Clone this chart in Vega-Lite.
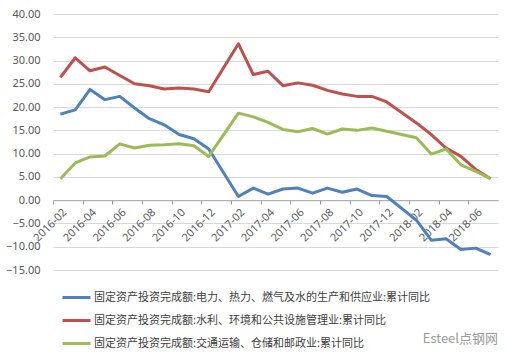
{
  "$schema": "https://vega.github.io/schema/vega-lite/v6.json",
  "width": 445,
  "height": 256,
  "autosize": {"type": "none"},
  "padding": {"left": 53, "top": 14, "right": 18, "bottom": 89},
  "background": "white",
  "config": {"view": {"stroke": null}, "font": "Noto Sans"},
  "title": {"text": "Esteel点钢网", "orient": "bottom", "anchor": "end", "frame": "group", "offset": -17, "color": "#9A9A9A", "fontSize": 13, "fontWeight": "normal", "font": "Noto Sans CJK SC"},
  "data": {"values": [
    {"month": "2016-02", "固定资产投资完成额:电力、热力、燃气及水的生产和供应业:累计同比": 18.5, "固定资产投资完成额:水利、环境和公共设施管理业:累计同比": 26.4, "固定资产投资完成额:交通运输、仓储和邮政业:累计同比": 4.6},
    {"month": "2016-03", "固定资产投资完成额:电力、热力、燃气及水的生产和供应业:累计同比": 19.4, "固定资产投资完成额:水利、环境和公共设施管理业:累计同比": 30.6, "固定资产投资完成额:交通运输、仓储和邮政业:累计同比": 8.0},
    {"month": "2016-04", "固定资产投资完成额:电力、热力、燃气及水的生产和供应业:累计同比": 23.8, "固定资产投资完成额:水利、环境和公共设施管理业:累计同比": 27.8, "固定资产投资完成额:交通运输、仓储和邮政业:累计同比": 9.3},
    {"month": "2016-05", "固定资产投资完成额:电力、热力、燃气及水的生产和供应业:累计同比": 21.6, "固定资产投资完成额:水利、环境和公共设施管理业:累计同比": 28.6, "固定资产投资完成额:交通运输、仓储和邮政业:累计同比": 9.5},
    {"month": "2016-06", "固定资产投资完成额:电力、热力、燃气及水的生产和供应业:累计同比": 22.3, "固定资产投资完成额:水利、环境和公共设施管理业:累计同比": 26.8, "固定资产投资完成额:交通运输、仓储和邮政业:累计同比": 12.1},
    {"month": "2016-07", "固定资产投资完成额:电力、热力、燃气及水的生产和供应业:累计同比": 19.8, "固定资产投资完成额:水利、环境和公共设施管理业:累计同比": 25.0, "固定资产投资完成额:交通运输、仓储和邮政业:累计同比": 11.2},
    {"month": "2016-08", "固定资产投资完成额:电力、热力、燃气及水的生产和供应业:累计同比": 17.5, "固定资产投资完成额:水利、环境和公共设施管理业:累计同比": 24.6, "固定资产投资完成额:交通运输、仓储和邮政业:累计同比": 11.8},
    {"month": "2016-09", "固定资产投资完成额:电力、热力、燃气及水的生产和供应业:累计同比": 16.2, "固定资产投资完成额:水利、环境和公共设施管理业:累计同比": 23.9, "固定资产投资完成额:交通运输、仓储和邮政业:累计同比": 11.9},
    {"month": "2016-10", "固定资产投资完成额:电力、热力、燃气及水的生产和供应业:累计同比": 14.1, "固定资产投资完成额:水利、环境和公共设施管理业:累计同比": 24.1, "固定资产投资完成额:交通运输、仓储和邮政业:累计同比": 12.1},
    {"month": "2016-11", "固定资产投资完成额:电力、热力、燃气及水的生产和供应业:累计同比": 13.2, "固定资产投资完成额:水利、环境和公共设施管理业:累计同比": 23.9, "固定资产投资完成额:交通运输、仓储和邮政业:累计同比": 11.7},
    {"month": "2016-12", "固定资产投资完成额:电力、热力、燃气及水的生产和供应业:累计同比": 11.0, "固定资产投资完成额:水利、环境和公共设施管理业:累计同比": 23.3, "固定资产投资完成额:交通运输、仓储和邮政业:累计同比": 9.4},
    {"month": "2017-02", "固定资产投资完成额:电力、热力、燃气及水的生产和供应业:累计同比": 0.8, "固定资产投资完成额:水利、环境和公共设施管理业:累计同比": 33.6, "固定资产投资完成额:交通运输、仓储和邮政业:累计同比": 18.7},
    {"month": "2017-03", "固定资产投资完成额:电力、热力、燃气及水的生产和供应业:累计同比": 2.6, "固定资产投资完成额:水利、环境和公共设施管理业:累计同比": 27.0, "固定资产投资完成额:交通运输、仓储和邮政业:累计同比": 17.9},
    {"month": "2017-04", "固定资产投资完成额:电力、热力、燃气及水的生产和供应业:累计同比": 1.3, "固定资产投资完成额:水利、环境和公共设施管理业:累计同比": 27.7, "固定资产投资完成额:交通运输、仓储和邮政业:累计同比": 16.7},
    {"month": "2017-05", "固定资产投资完成额:电力、热力、燃气及水的生产和供应业:累计同比": 2.4, "固定资产投资完成额:水利、环境和公共设施管理业:累计同比": 24.6, "固定资产投资完成额:交通运输、仓储和邮政业:累计同比": 15.2},
    {"month": "2017-06", "固定资产投资完成额:电力、热力、燃气及水的生产和供应业:累计同比": 2.6, "固定资产投资完成额:水利、环境和公共设施管理业:累计同比": 25.2, "固定资产投资完成额:交通运输、仓储和邮政业:累计同比": 14.7},
    {"month": "2017-07", "固定资产投资完成额:电力、热力、燃气及水的生产和供应业:累计同比": 1.5, "固定资产投资完成额:水利、环境和公共设施管理业:累计同比": 24.7, "固定资产投资完成额:交通运输、仓储和邮政业:累计同比": 15.4},
    {"month": "2017-08", "固定资产投资完成额:电力、热力、燃气及水的生产和供应业:累计同比": 2.6, "固定资产投资完成额:水利、环境和公共设施管理业:累计同比": 23.6, "固定资产投资完成额:交通运输、仓储和邮政业:累计同比": 14.2},
    {"month": "2017-09", "固定资产投资完成额:电力、热力、燃气及水的生产和供应业:累计同比": 1.7, "固定资产投资完成额:水利、环境和公共设施管理业:累计同比": 22.8, "固定资产投资完成额:交通运输、仓储和邮政业:累计同比": 15.3},
    {"month": "2017-10", "固定资产投资完成额:电力、热力、燃气及水的生产和供应业:累计同比": 2.4, "固定资产投资完成额:水利、环境和公共设施管理业:累计同比": 22.3, "固定资产投资完成额:交通运输、仓储和邮政业:累计同比": 15.0},
    {"month": "2017-11", "固定资产投资完成额:电力、热力、燃气及水的生产和供应业:累计同比": 1.0, "固定资产投资完成额:水利、环境和公共设施管理业:累计同比": 22.3, "固定资产投资完成额:交通运输、仓储和邮政业:累计同比": 15.5},
    {"month": "2017-12", "固定资产投资完成额:电力、热力、燃气及水的生产和供应业:累计同比": 0.8, "固定资产投资完成额:水利、环境和公共设施管理业:累计同比": 21.1, "固定资产投资完成额:交通运输、仓储和邮政业:累计同比": 14.8},
    {"month": "2018-02", "固定资产投资完成额:电力、热力、燃气及水的生产和供应业:累计同比": -4.3, "固定资产投资完成额:水利、环境和公共设施管理业:累计同比": 16.6, "固定资产投资完成额:交通运输、仓储和邮政业:累计同比": 13.4},
    {"month": "2018-03", "固定资产投资完成额:电力、热力、燃气及水的生产和供应业:累计同比": -8.6, "固定资产投资完成额:水利、环境和公共设施管理业:累计同比": 14.1, "固定资产投资完成额:交通运输、仓储和邮政业:累计同比": 9.9},
    {"month": "2018-04", "固定资产投资完成额:电力、热力、燃气及水的生产和供应业:累计同比": -8.3, "固定资产投资完成额:水利、环境和公共设施管理业:累计同比": 11.2, "固定资产投资完成额:交通运输、仓储和邮政业:累计同比": 11.0},
    {"month": "2018-05", "固定资产投资完成额:电力、热力、燃气及水的生产和供应业:累计同比": -10.6, "固定资产投资完成额:水利、环境和公共设施管理业:累计同比": 9.4, "固定资产投资完成额:交通运输、仓储和邮政业:累计同比": 7.6},
    {"month": "2018-06", "固定资产投资完成额:电力、热力、燃气及水的生产和供应业:累计同比": -10.3, "固定资产投资完成额:水利、环境和公共设施管理业:累计同比": 6.6, "固定资产投资完成额:交通运输、仓储和邮政业:累计同比": 6.2},
    {"month": "2018-07", "固定资产投资完成额:电力、热力、燃气及水的生产和供应业:累计同比": -11.7, "固定资产投资完成额:水利、环境和公共设施管理业:累计同比": 4.6, "固定资产投资完成额:交通运输、仓储和邮政业:累计同比": 4.6}
  ]},
  "transform": [
    {"fold": ["固定资产投资完成额:电力、热力、燃气及水的生产和供应业:累计同比", "固定资产投资完成额:水利、环境和公共设施管理业:累计同比", "固定资产投资完成额:交通运输、仓储和邮政业:累计同比"], "as": ["series", "value"]}
  ],
  "mark": {"type": "line", "strokeWidth": 3, "strokeJoin": "round"},
  "encoding": {
    "x": {
      "field": "month", "type": "ordinal",
      "scale": {"type": "point", "padding": 0.5, "domain": ["2016-02","2016-03","2016-04","2016-05","2016-06","2016-07","2016-08","2016-09","2016-10","2016-11","2016-12","2017-01","2017-02","2017-03","2017-04","2017-05","2017-06","2017-07","2017-08","2017-09","2017-10","2017-11","2017-12","2018-01","2018-02","2018-03","2018-04","2018-05","2018-06","2018-07"]},
      "axis": {
        "title": null,
        "values": ["2016-02","2016-04","2016-06","2016-08","2016-10","2016-12","2017-02","2017-04","2017-06","2017-08","2017-10","2017-12","2018-02","2018-04","2018-06"],
        "labelAngle": -45, "labelAlign": "right", "labelBaseline": "top",
        "offset": -69.8, "tickOffset": -7.42, "labelOffset": 7.42,
        "tickSize": 4, "tickColor": "#A6A6A6", "domainColor": "#A6A6A6",
        "labelColor": "#595959", "labelFontSize": 11, "labelPadding": 2, "grid": false
      }
    },
    "y": {
      "field": "value", "type": "quantitative",
      "scale": {"domain": [-15, 40], "nice": false},
      "axis": {
        "title": null, "values": [-15,-10,-5,0,5,10,15,20,25,30,35,40], "format": ".2f",
        "domain": false, "ticks": false, "gridColor": "#D9D9D9",
        "labelColor": "#595959", "labelFontSize": 11, "labelPadding": 13
      }
    },
    "color": {
      "field": "series", "type": "nominal",
      "scale": {
        "domain": ["固定资产投资完成额:电力、热力、燃气及水的生产和供应业:累计同比", "固定资产投资完成额:水利、环境和公共设施管理业:累计同比", "固定资产投资完成额:交通运输、仓储和邮政业:累计同比"],
        "range": ["#4F81BD", "#C0504D", "#9BBB59"]
      },
      "legend": {
        "title": null, "orient": "none", "legendX": 8, "legendY": 268, "direction": "vertical",
        "symbolType": "stroke", "symbolSize": 784, "symbolStrokeWidth": 3,
        "labelFont": "Noto Sans CJK SC", "labelFontSize": 11, "labelColor": "#404040",
        "labelLimit": 600, "labelOffset": 2, "rowPadding": 1
      }
    }
  }
}
